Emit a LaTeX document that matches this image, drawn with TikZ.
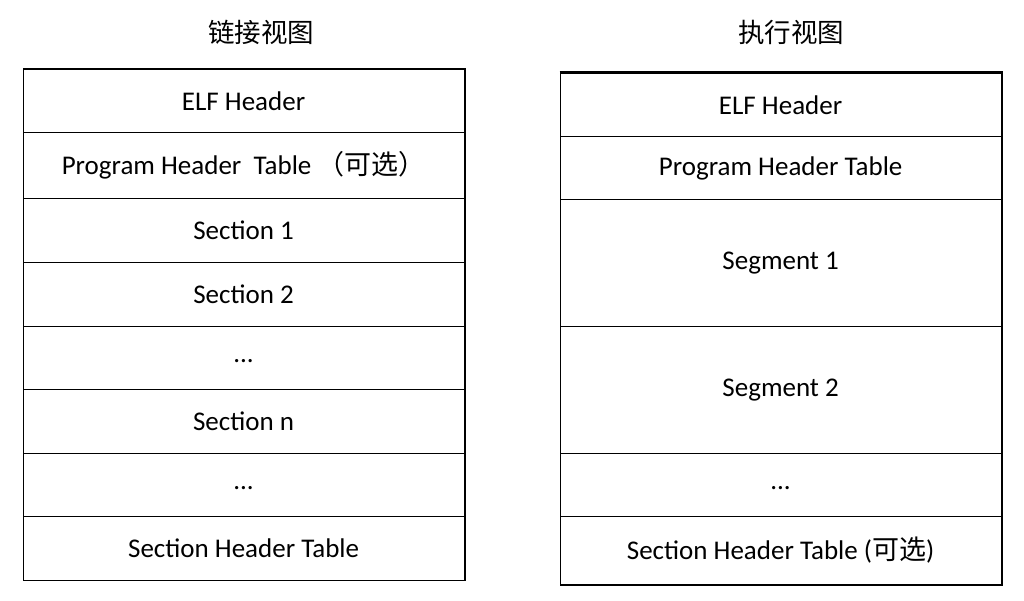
\documentclass[tikz,border=0pt]{standalone}
\usepackage{fontspec}
\setmainfont{Carlito}
\newfontfamily\cjk{Noto Sans CJK SC}
\begin{document}
\begin{tikzpicture}[x=1pt,y=1pt,
  cell/.style={draw, line width=1.2pt, inner sep=0pt, anchor=north west,
    minimum width=441pt, font=\fontsize{27}{31}\selectfont},
  dots/.style={text height=8pt, text depth=0pt},
  title/.style={font=\cjk\fontsize{26.5}{30}\selectfont}]
\useasboundingbox (0,0) rectangle (1024,-601);

% titles
\node[title] (tl) at (261,-32) {链接视图};
\node[title] (tr) at (791,-32) {执行视图};

% linking view
\node[cell, minimum height=63.5pt] (L1) at (22.5,-68.5) {ELF Header};
\node[cell, minimum height=66pt] (L2) at (22.5,-132) {Program Header\ \ Table\ {\cjk （可选）}};
\node[cell, minimum height=64pt] (L3) at (22.5,-198) {Section 1};
\node[cell, minimum height=64pt] (L4) at (22.5,-262) {Section 2};
\node[cell, dots, minimum height=63pt] (L5) at (22.5,-326) {...};
\node[cell, minimum height=64pt] (L6) at (22.5,-389) {Section n};
\node[cell, dots, minimum height=63pt] (L7) at (22.5,-453) {...};
\node[cell, minimum height=63.5pt] (L8) at (22.5,-516) {Section Header Table};
\draw[line width=2pt] (L1.north east) -- (L8.south east);

% execution view
\node[cell, minimum height=63.5pt] (R1) at (559.5,-72.5) {ELF Header};
\node[cell, minimum height=63pt] (R2) at (559.5,-136) {Program Header Table};
\node[cell, minimum height=127pt] (R3) at (559.5,-199) {Segment 1};
\node[cell, minimum height=127pt] (R4) at (559.5,-326) {Segment 2};
\node[cell, dots, minimum height=63pt] (R5) at (559.5,-453) {...};
\node[cell, minimum height=67.5pt] (R6) at (559.5,-516) {Section Header Table ({\cjk 可选})};
\draw[line width=2.2pt] (R1.north west) -- (R1.north east) -- (R6.south east) -- (R6.south west);
\end{tikzpicture}
\end{document}
